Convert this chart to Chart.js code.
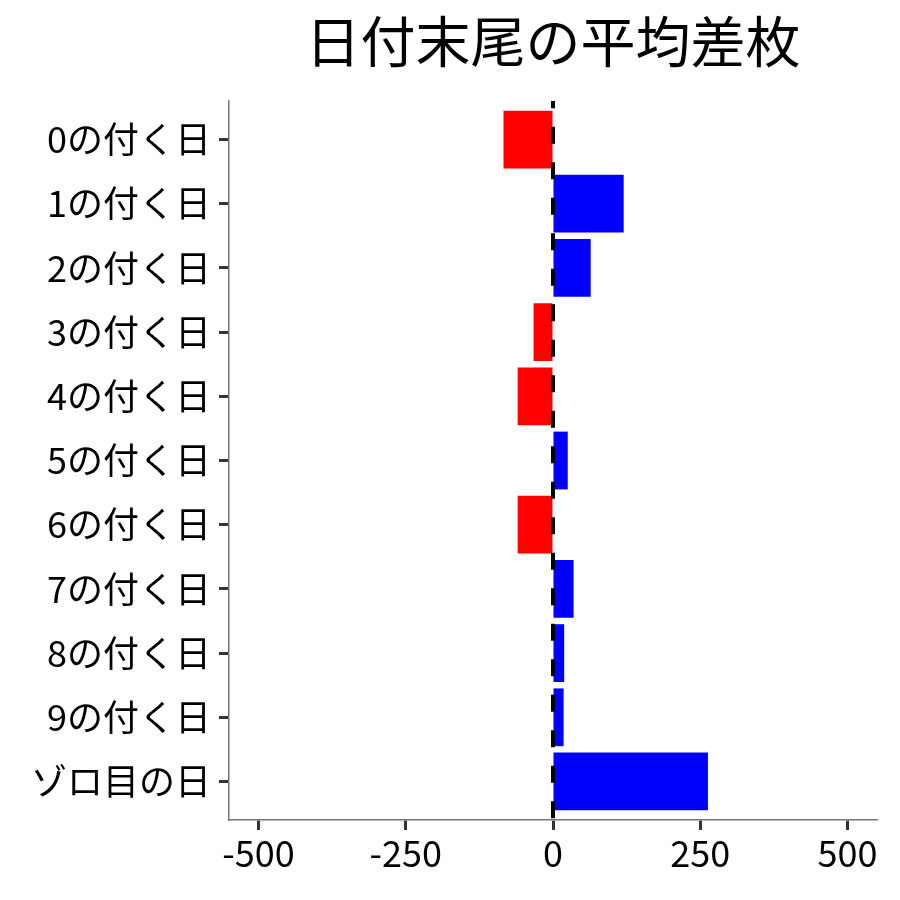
<!DOCTYPE html>
<html>
<head>
<meta charset="utf-8">
<script src="https://cdn.jsdelivr.net/npm/chart.js@4.4.1/dist/chart.umd.min.js"></script>
<style>
  html, body { margin: 0; padding: 0; background: #fff; }
  #wrap { width: 900px; height: 900px; }
</style>
</head>
<body>
<div id="wrap"><canvas id="myChart" width="900" height="900"></canvas></div>
<script>
const dayLabels = ["0の付く日", "1の付く日", "2の付く日", "3の付く日", "4の付く日",
    "5の付く日", "6の付く日", "7の付く日", "8の付く日", "9の付く日", "ゾロ目の日"];
const avgDiff = [-84, 120, 64, -33, -60, 25, -60, 35, 19, 18, 263];
const xTicks = [-500, -250, 0, 250, 500];

const FONT = "'Noto Sans CJK JP', 'Noto Sans', sans-serif";

// 0のところに破線を引く
const zeroLine = {
    id: "zeroLine",
    afterDatasetsDraw(chart) {
        const ctx = chart.ctx;
        const area = chart.chartArea;
        const x = chart.scales.x.getPixelForValue(0);
        ctx.save();
        ctx.strokeStyle = "#000";
        ctx.lineWidth = 4;
        ctx.setLineDash([17, 18.5]);
        ctx.lineDashOffset = 9.7;
        ctx.beginPath();
        ctx.moveTo(x, area.top);
        ctx.lineTo(x, area.bottom);
        ctx.stroke();
        ctx.restore();
    },
};

const ctx = document.getElementById("myChart").getContext("2d");
const myChart = new Chart(ctx, {
    type: "bar",
    data: {
        datasets: [
            {
                data: avgDiff.map((v, i) => ({ x: v, y: i })),
                backgroundColor: avgDiff.map((v) => (v < 0 ? "#FF0000" : "#0000FF")),
                borderWidth: 0,
                barPercentage: 0.9,
                categoryPercentage: 1,
            },
        ],
    },
    plugins: [zeroLine],
    options: {
        indexAxis: "y",
        responsive: false,
        animation: false,
        layout: { padding: { left: 0, right: 23, top: 0, bottom: 0 } },
        plugins: {
            legend: { display: false },
            tooltip: { enabled: false },
            title: {
                display: true,
                text: "日付末尾の平均差枚",
                color: "#000",
                fullSize: false,
                font: { family: FONT, size: 55, weight: "normal", lineHeight: 1.2 },
                padding: { top: 8.5, bottom: 26.5 },
            },
        },
        scales: {
            x: {
                type: "linear",
                min: -550,
                max: 550,
                afterBuildTicks: (scale) => {
                    scale.ticks = xTicks.map((v) => ({ value: v }));
                },
                afterFit: (scale) => {
                    scale.height = 80;
                },
                grid: {
                    drawOnChartArea: false,
                    drawTicks: true,
                    tickLength: 10,
                    tickColor: "#333",
                    tickWidth: 3,
                },
                border: { color: "#777", width: 1.5 },
                ticks: {
                    color: "#000",
                    padding: 2,
                    maxRotation: 0,
                    font: { family: FONT, size: 36 },
                },
            },
            y: {
                type: "linear",
                min: -0.6,
                max: 10.6,
                reverse: true,
                offset: false,
                afterBuildTicks: (scale) => {
                    scale.ticks = dayLabels.map((_, i) => ({ value: i }));
                },
                afterFit: (scale) => {
                    scale.width = 229;
                },
                grid: {
                    offset: false,
                    drawOnChartArea: false,
                    drawTicks: true,
                    tickLength: 10,
                    tickColor: "#333",
                    tickWidth: 3,
                },
                border: { color: "#777", width: 1.5 },
                ticks: {
                    color: "#000",
                    padding: 8,
                    autoSkip: false,
                    font: { family: FONT, size: 36 },
                    callback: (value) => dayLabels[value],
                },
            },
        },
    },
});
</script>
</body>
</html>
